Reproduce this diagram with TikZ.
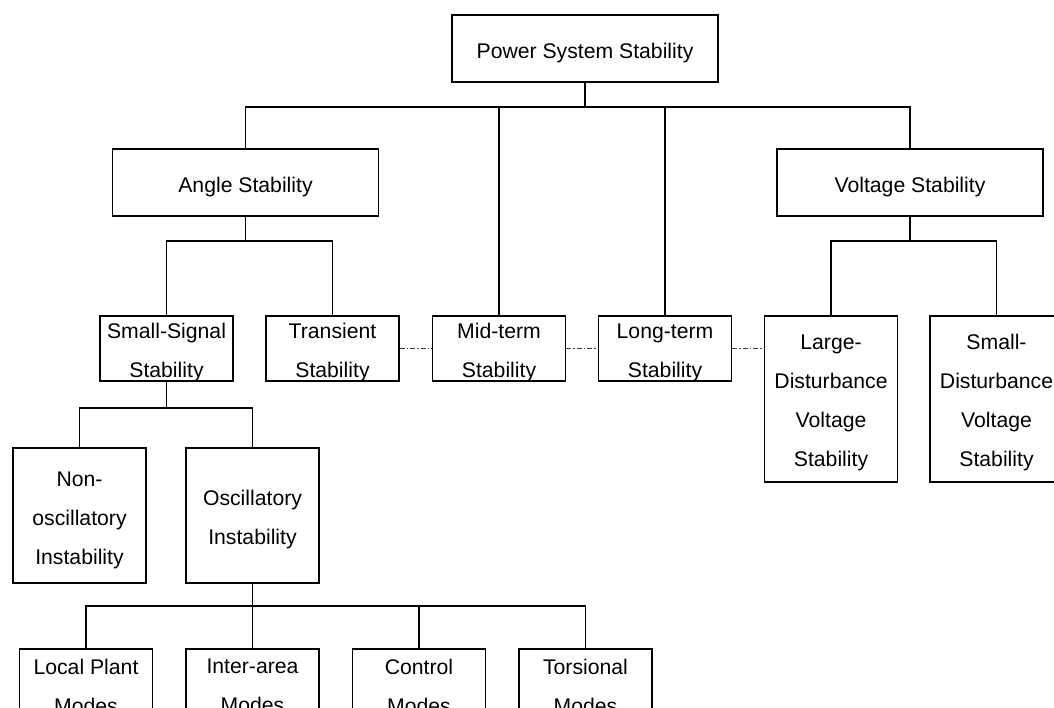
\documentclass[tikz,border=0pt]{standalone}
\usepackage{fontspec}
\setmainfont{Liberation Sans}
\begin{document}
\begin{tikzpicture}[x=1pt,y=-1pt,
  box/.style={draw,line width=1.2pt,rectangle,inner sep=0pt},
  lbl/.style={align=center,inner sep=0pt,yshift=-4.5pt,
    font=\fontsize{21.2}{39}\selectfont},
  wide/.style={box,minimum width=266pt,minimum height=67pt},
  twoline/.style={box,minimum width=133pt,minimum height=65pt},
  threeline/.style={box,minimum width=133pt,minimum height=135pt},
  fourline/.style={box,minimum width=133pt,minimum height=166pt},
  link/.style={line width=1.2pt},
  tie/.style={line width=0.6pt,black!75,dash pattern=on 5pt off 2pt on 1.5pt off 2pt}]
\useasboundingbox (0,0) rectangle (1054,708);

% top level
\node[wide,label={[lbl]center:Power System Stability}] (pss) at (585,48.5) {};
\node[wide,label={[lbl]center:Angle Stability}] (angle) at (245.5,182.5) {};
\node[wide,label={[lbl]center:Voltage Stability}] (volt) at (910,182.5) {};

% second level
\node[twoline,label={[lbl]center:Small-Signal\\Stability}] (ss) at (166.5,348.5) {};
\node[twoline,label={[lbl]center:Transient\\Stability}] (tr) at (332.5,348.5) {};
\node[twoline,label={[lbl]center:Mid-term\\Stability}] (mid) at (499,348.5) {};
\node[twoline,label={[lbl]center:Long-term\\Stability}] (long) at (665,348.5) {};
\node[fourline,label={[lbl,yshift=1pt]center:Large-\\Disturbance\\Voltage\\Stability}] (ld) at (831,399) {};
\node[fourline,label={[lbl,yshift=1pt]center:Small-\\Disturbance\\Voltage\\Stability}] (sd) at (996.5,399) {};

% small-signal branch
\node[threeline,label={[lbl]center:Non-\\oscillatory\\Instability}] (nonosc) at (79.5,515.5) {};
\node[threeline,label={[lbl]center:Oscillatory\\Instability}] (osc) at (252.5,515.5) {};

% oscillatory modes
\node[twoline,label={[lbl]center:Local Plant\\Modes}] (local) at (86,681.5) {};
\node[twoline,label={[lbl]center:Inter-area\\Modes}] (inter) at (252.5,681.5) {};
\node[twoline,label={[lbl]center:Control\\Modes}] (ctrl) at (419,681.5) {};
\node[twoline,label={[lbl]center:Torsional\\Modes}] (tors) at (585.5,681.5) {};

% junction points of the tree
\coordinate (j0) at (585,107);
\coordinate (j1) at (245.5,241);
\coordinate (j2) at (910,241);
\coordinate (j3) at (166.5,408);
\coordinate (j4) at (252.5,606);

\draw[link] (pss.south) -- (j0);
\draw[link] (angle.north) |- (j0) -| (volt.north);
\draw[link] (mid.north) -- (mid.north |- j0);
\draw[link] (long.north) -- (long.north |- j0);

\draw[link] (angle.south) -- (j1);
\draw[link] (ss.north) |- (j1) -| (tr.north);

\draw[link] (volt.south) -- (j2);
\draw[link] (ld.north) |- (j2) -| (sd.north);

\draw[link] (ss.south) -- (j3);
\draw[link] (nonosc.north) |- (j3) -| (osc.north);

\draw[link] (osc.south) -- (j4);
\draw[link] (local.north) |- (j4) -| (tors.north);
\draw[link] (inter.north) -- (inter.north |- j4);
\draw[link] (ctrl.north) -- (ctrl.north |- j4);

% time-frame ties between sibling categories
\draw[tie] (tr.east) -- (mid.west);
\draw[tie] (mid.east) -- (long.west);
\draw[tie] (long.east) -- (ld.west |- long.east);
\end{tikzpicture}
\end{document}
